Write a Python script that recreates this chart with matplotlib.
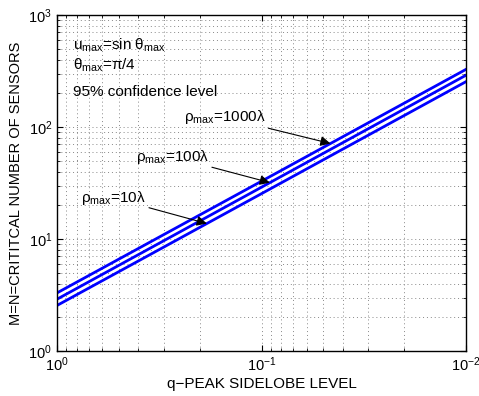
import numpy as np
import matplotlib
matplotlib.use('Agg')
from matplotlib import pyplot as plt

plt.rcParams['font.family'] = ['Liberation Sans', 'DejaVu Sans']
plt.rcParams['mathtext.fontset'] = 'custom'
plt.rcParams['mathtext.rm'] = 'Liberation Sans'
plt.rcParams['mathtext.it'] = 'Liberation Sans'
plt.rcParams['mathtext.default'] = 'regular'

# data
q = [1.0, 0.1, 0.01]
m_1000 = [3.3, 32.8, 327.0]
m_100 = [2.9, 29.0, 290.0]
m_10 = [2.55, 25.4, 254.0]

labels = [r'$\rho_{max}$=1000$\lambda$', r'$\rho_{max}$=100$\lambda$', r'$\rho_{max}$=10$\lambda$']
arrow_q = [0.046, 0.091, 0.185]
text_pos = [(0.51, 0.695), (0.372, 0.578), (0.218, 0.455)]

fig = plt.figure(figsize=(4.79, 3.96), dpi=100)
ax = fig.add_axes([57/479, 45/396, 409/479, 336/396])

for m in [m_1000, m_100, m_10]:
    ax.loglog(q, m, color='#0000ff', lw=2)

ax.set_xlim(1, 0.01)
ax.set_ylim(1, 1000)

#grid and matlab style box
ax.grid(True, which='both', linestyle=(0, (1, 3)), color='#888888', lw=0.7)
ax.tick_params(which='both', direction='in', top=True, right=True, labelsize=10.5)
ax.tick_params(which='major', length=4)
ax.tick_params(which='minor', length=2)
for s in ax.spines.values():
    s.set_linewidth(1.0)

ax.set_xlabel(u'q\u2212PEAK SIDELOBE LEVEL', fontsize=11, labelpad=2)
ax.set_ylabel('M=N=CRITITCAL NUMBER OF SENSORS', fontsize=10.5, labelpad=4)

#top-left notes
ax.text(0.04, 0.91, r'u$_{max}$=sin $\theta_{max}$', transform=ax.transAxes, fontsize=11, va='center')
ax.text(0.04, 0.85, r'$\theta_{max}$=$\pi$/4', transform=ax.transAxes, fontsize=11, va='center')
ax.text(0.04, 0.77, '95% confidence level', transform=ax.transAxes, fontsize=11, va='center')

#arrows
for m, lab, aq, tp in zip([m_1000, m_100, m_10], labels, arrow_q, text_pos):
    am = 10 ** np.interp(np.log10(aq), np.log10(q[::-1]), np.log10(m[::-1]))
    ax.annotate(lab, xy=(aq, am), xycoords='data', xytext=tp, textcoords='axes fraction',
                ha='right', va='center', fontsize=11,
                arrowprops=dict(arrowstyle='-|>', color='k', lw=0.8, mutation_scale=15,
                                shrinkA=0, shrinkB=0))

plt.savefig('out.png', dpi=100)
plt.close()
